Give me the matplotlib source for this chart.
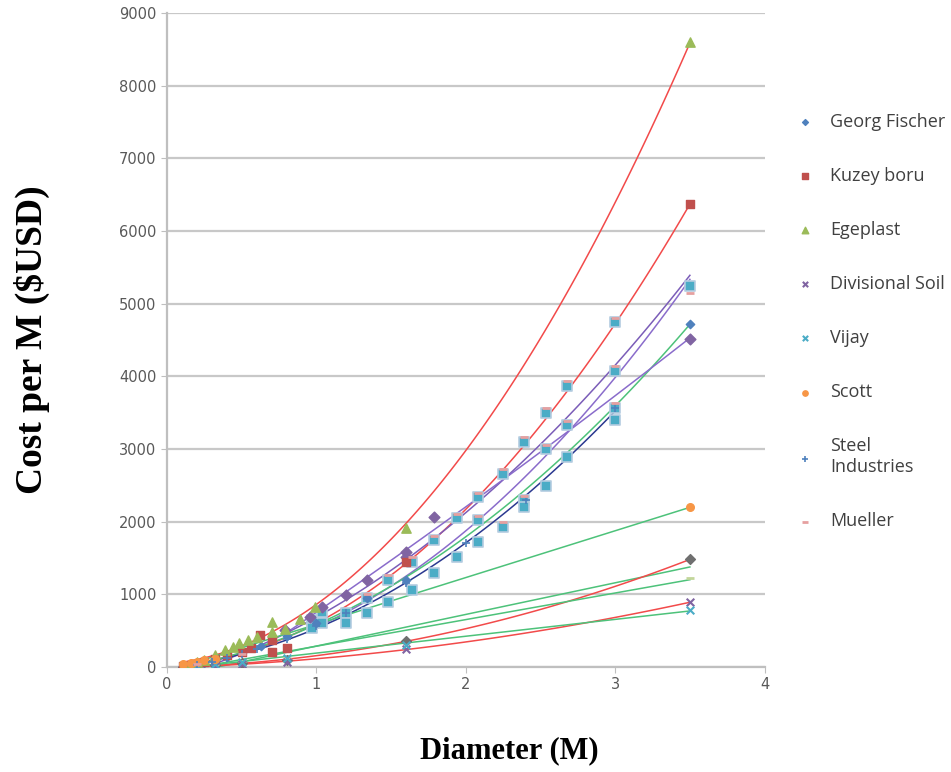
import matplotlib.pyplot as plt
import numpy as np

# Diameter (M) vs cost per metre (USD)
gf_d = [0.11, 0.16, 0.2, 0.25, 0.32, 0.4, 0.5, 0.63, 0.8, 1.0, 1.34, 1.6, 3.5]
gf_c = [10, 25, 40, 60, 90, 140, 200, 290, 430, 600, 950, 1197, 4720]

kb_d = [0.11, 0.16, 0.2, 0.25, 0.32, 0.4, 0.5, 0.56, 0.62, 0.7, 0.7, 0.8, 1.6, 3.5]
kb_c = [15, 30, 45, 70, 110, 170, 210, 260, 440, 370, 206, 260, 1445, 6371]

eg_d = [0.11, 0.16, 0.2, 0.25, 0.32, 0.39, 0.44, 0.48, 0.54, 0.6, 0.7, 0.7, 0.79, 0.89, 0.99, 1.6, 3.5]
eg_c = [20, 45, 65, 100, 160, 235, 275, 330, 370, 410, 480, 620, 520, 660, 825, 1920, 8600]

ds_d = [0.11, 0.2, 0.32, 0.5, 0.8, 1.6, 3.5]
ds_c = [3, 8, 15, 35, 70, 248, 890]

vj_d = [0.11, 0.2, 0.32, 0.5, 0.8, 1.6, 3.5]
vj_c = [8, 20, 40, 70, 120, 300, 790]

sc_d = [0.11, 0.16, 0.2, 0.25, 0.32, 3.5]
sc_c = [40, 60, 75, 95, 110, 2200]

si_d = [0.2, 0.3, 0.4, 0.5, 0.6, 0.8, 1.0, 1.2, 1.6, 2.0, 2.4, 3.0]
si_c = [30, 70, 120, 180, 250, 390, 560, 740, 1150, 1700, 2300, 3560]

# cyan boxes (many dealers) and the pink dash tops (Mueller)
cy_d = [0.97, 0.97, 1.04, 1.04, 1.2, 1.2, 1.34, 1.34, 1.48, 1.48, 1.64, 1.64,
        1.79, 1.79, 1.94, 1.94, 2.08, 2.08, 2.08, 2.25, 2.25, 2.39, 2.39, 2.39,
        2.54, 2.54, 2.54, 2.68, 2.68, 2.68, 3.0, 3.0, 3.0, 3.0, 3.5]
cy_c = [650, 537, 757, 605, 743, 605, 950, 743, 1197, 894, 1445, 1060,
        1748, 1293, 2050, 1514, 2340, 2023, 1720, 2655, 1926, 3096, 2298, 2202,
        3495, 3000, 2490, 3867, 3330, 2890, 4747, 4073, 3564, 3400, 5250]
mu_d = [0.2, 0.5, 1.34, 1.48, 1.64, 1.79, 1.94, 2.08, 2.08, 2.25, 2.25, 2.39, 2.39,
        2.54, 2.54, 2.68, 2.68, 3.0, 3.0, 3.0, 3.5]
mu_c = [40, 180, 1010, 1260, 1510, 1810, 2110, 2400, 2080, 2720, 1990, 3160, 2360,
        3560, 3060, 3930, 3390, 4810, 4140, 3630, 5150]

pd_d = [0.79, 0.96, 1.04, 1.2, 1.34, 1.6, 1.6, 1.79, 3.5]
pd_c = [510, 688, 826, 990, 1197, 1582, 1513, 2064, 4520]

gr_d = [0.11, 0.2, 0.32, 0.5, 0.8, 1.6, 3.5]
gr_c = [5, 12, 25, 50, 100, 358, 1480]

lm_d = [0.11, 0.2, 0.32, 0.5, 0.8, 3.5]
lm_c = [10, 25, 45, 80, 130, 1220]

RED = '#F24A4A'
GREEN = '#4DC27A'
PURPLE = '#8A6CCB'
NAVY = '#2B3990'

fig = plt.figure(figsize=(9.51, 7.72), dpi=100)
ax = fig.add_axes([0.1756, 0.136, 0.6284, 0.847])


def trend(d, c, deg, color):
    k = np.polyfit(d, c, deg)
    xs = np.linspace(min(d), max(d), 120)
    ax.plot(xs, np.polyval(k, xs), color=color, lw=1.1, zorder=3)


# trendlines
trend(eg_d, eg_c, 2, RED)
trend(kb_d, kb_c, 2, RED)
trend(cy_d, cy_c, 2, PURPLE)
trend(mu_d, mu_c, 2, '#7B5DB8')
trend(si_d, si_c, 2, NAVY)
trend(gf_d, gf_c, 2, GREEN)
trend(pd_d, pd_c, 2, PURPLE)
trend(sc_d, sc_c, 1, GREEN)
trend(gr_d, gr_c, 1, GREEN)
trend(gr_d, gr_c, 2, RED)
trend(lm_d, lm_c, 1, GREEN)
trend(ds_d, ds_c, 2, RED)
trend(vj_d, vj_c, 1, GREEN)

# markers
ax.scatter(cy_d, cy_c, marker='s', s=55, color='#4BACC6', edgecolors='#B4CCE0', linewidths=1.2, zorder=4)
ax.scatter(pd_d, pd_c, marker='D', s=30, color='#8064A2', zorder=4)
ax.scatter(gr_d, gr_c, marker='D', s=25, color='#6F6F6F', zorder=4)
ax.scatter(lm_d, lm_c, marker='_', s=40, color='#C3D69B', linewidths=2, zorder=4)
h_gf = ax.scatter(gf_d, gf_c, marker='D', s=18, color='#4F81BD', zorder=5, label='Georg Fischer')
h_kb = ax.scatter(kb_d, kb_c, marker='s', s=36, color='#C0504D', zorder=5, label='Kuzey boru')
h_eg = ax.scatter(eg_d, eg_c, marker='^', s=45, color='#9BBB59', zorder=5, label='Egeplast')
h_ds = ax.scatter(ds_d, ds_c, marker='x', s=30, color='#8064A2', linewidths=1.5, zorder=5, label='Divisional Soil')
h_vj = ax.scatter(vj_d, vj_c, marker='x', s=30, color='#4BACC6', linewidths=1.5, zorder=5, label='Vijay')
h_sc = ax.scatter(sc_d, sc_c, marker='o', s=30, color='#F79646', zorder=5, label='Scott')
h_si = ax.scatter(si_d, si_c, marker='+', s=30, color='#4F81BD', linewidths=1.2, zorder=5, label='Steel\nIndustries')
h_mu = ax.scatter(mu_d, mu_c, marker='_', s=40, color='#E6A0A0', linewidths=2, zorder=5, label='Mueller')

ax.set_xlim(0, 4)
ax.set_ylim(0, 9000)
ax.set_xticks([0, 1, 2, 3, 4])
ax.set_yticks(np.arange(0, 9001, 1000))
ax.grid(axis='y', color='#C8C8C8', lw=1.6)
ax.set_axisbelow(True)
for s in ['top', 'right']:
    ax.spines[s].set_visible(False)
for s in ['left', 'bottom']:
    ax.spines[s].set_color('#BFBFBF')
    ax.spines[s].set_linewidth(1.6)
ax.tick_params(colors='#BFBFBF', labelcolor='#595959', labelsize=10.5, length=4)

fig.text(0.034, 0.56, 'Cost per M ($USD)', rotation=90, ha='center', va='center',
         family='Liberation Serif', fontweight='bold', fontsize=27)
fig.text(0.536, 0.028, 'Diameter (M)', ha='center', va='center',
         family='Liberation Serif', fontweight='bold', fontsize=22)

fig.legend(handles=[h_gf, h_kb, h_eg, h_ds, h_vj, h_sc, h_si, h_mu],
           loc='upper left', bbox_to_anchor=(0.82, 0.875), frameon=False,
           prop={'family': 'Open Sans', 'size': 13}, labelcolor='#404040',
           labelspacing=2.0, handlelength=1.0, handletextpad=0.9, markerscale=0.7)

fig.savefig('out.png', dpi=100)
